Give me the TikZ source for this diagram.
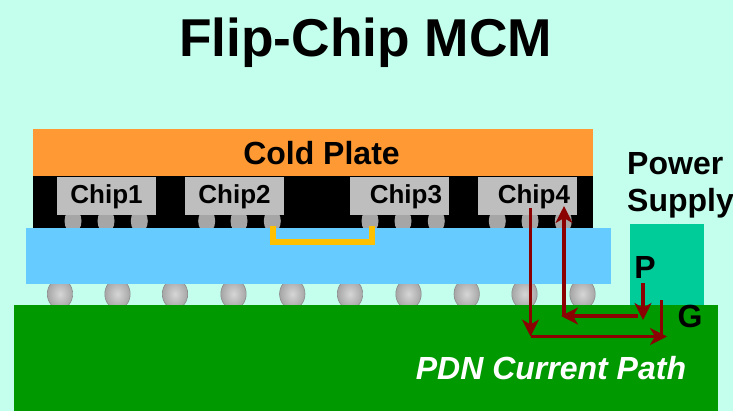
\documentclass[tikz,border=0pt]{standalone}
\usepackage{fontspec}
\setmainfont{Liberation Sans}
\usetikzlibrary{arrows.meta}
\definecolor{bgmint}{HTML}{C4FFEE}
\definecolor{plateorange}{HTML}{FF9933}
\definecolor{subblue}{HTML}{66CCFF}
\definecolor{boardgreen}{HTML}{009900}
\definecolor{supplygreen}{HTML}{00CC99}
\definecolor{chipgray}{HTML}{BEBEBE}
\definecolor{bumpgray}{HTML}{A6A6A6}
\definecolor{bumplight}{HTML}{D6D6D6}
\definecolor{bumpedge}{HTML}{8C8C8C}
\definecolor{wireyellow}{HTML}{FFC000}
\definecolor{pathred}{HTML}{8B0000}
\tikzset{
  lbl/.style={font=\fontsize{32}{32}\selectfont\bfseries,inner sep=0pt},
  chip/.style={fill=chipgray,font=\fontsize{26}{26}\selectfont\bfseries,
    text width=85pt,minimum height=38pt,inner sep=7pt,text depth=3pt},
  pdn/.style={draw=pathred,line width=3.4pt},
  pdntip/.style={pdn,-{Stealth[length=17pt,width=17pt,inset=5pt]}}
}
\begin{document}
\begin{tikzpicture}[x=1pt,y=-1pt]
\fill[bgmint](0,0) rectangle (733,411);
\useasboundingbox (0,0) rectangle (733,411);

% big bumps go first, blue and green cut them
\foreach \x in {60,117.5,175,233.5,292.3,350,408.5,466.7,524.5,582.5}
  \shade[inner color=bumplight,outer color=bumpgray,draw=bumpedge,line width=.6pt]
    (\x,294) ellipse (12.7 and 15);

% cold plate and gap
\fill[plateorange](33,129) rectangle (593,176);
\fill[black](33,176) rectangle (593,228);

% small bumps
\foreach \x in {73,106,139.3,206.7,239,272.3,370,403,436.3,497.3,530,563.3}
  \fill[bumpgray](\x,221) ellipse (8.5 and 12);

\fill[subblue](26,228) rectangle (611,284);
\fill[boardgreen](14,305) rectangle (718,411);
\fill[supplygreen](630,224) rectangle (704,305);

% chips
\node[chip,align=center] (chip1) at (106.5,196) {Chip1\hspace*{2pt}};
\node[chip,align=center] (chip2) at (234.5,196) {Chip2};
\node[chip,align=right] (chip3) at (399.5,196) {Chip3};
\node[chip,align=right] (chip4) at (527.5,196) {Chip4};

% texts
\node[font=\fontsize{53.3}{53.3}\selectfont\bfseries,inner sep=0pt] (title) at (365.5,43) {Flip-Chip MCM};
\node[lbl] (plate) at (321.5,153) {Cold Plate};
\node[lbl,anchor=west] (power) at (627,164) {Power};
\node[lbl,anchor=west] (supply) at (627,203) {Supply};
\node[lbl] (plabel) at (645,267) {P};
\node[lbl] (glabel) at (690,316) {G};
\node[lbl,white,font=\fontsize{32}{32}\selectfont\bfseries\itshape] (pathlabel) at (551,368) {PDN Current Path};

% wire between chip2 and chip3
\coordinate (wa) at (273,226);
\coordinate (wb) at (273,242.5);
\coordinate (wc) at (372,242.5);
\coordinate (wd) at (372,226);
\draw[wireyellow,line width=6pt](wa) -- (wb) -- (wc) -- (wd);

% current path
\coordinate (dtop) at (530.5,208);
\coordinate (dbot) at (530.5,336.5);
\coordinate (gbot) at (667,336.5);
\coordinate (gtop) at (661.7,300.5);
\coordinate (gend) at (661.7,336.5);
\coordinate (ptop) at (643,283);
\coordinate (pbot) at (643,320);
\coordinate (rstart) at (638,316);
\coordinate (rend) at (561,316);
\coordinate (upbot) at (564,316);
\coordinate (uptop) at (564,206);
\draw[pdntip](dtop) -- (dbot);
\draw[pdntip](dbot) -- (gbot);
\draw[pdn](gtop) -- (gend);
\draw[pdntip](ptop) -- (pbot);
\draw[pdntip](rstart) -- (rend);
\draw[pdntip](upbot) -- (uptop);
\end{tikzpicture}
\end{document}
